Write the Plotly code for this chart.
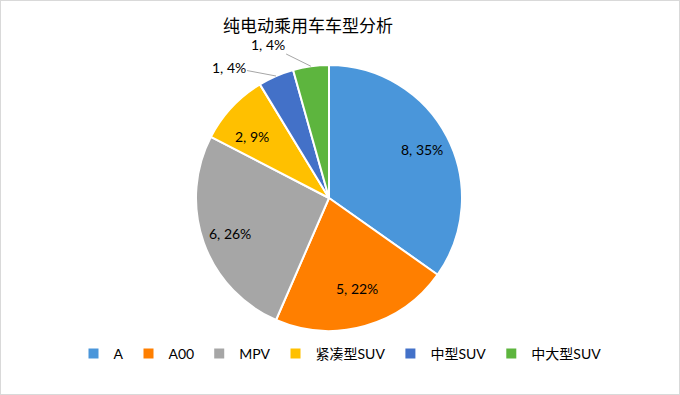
import math
import plotly.graph_objects as go

categories = ["A", "A00", "MPV", "紧凑型SUV", "中型SUV", "中大型SUV"]
values = [8, 5, 6, 2, 1, 1]
colors = ["#4A96DA", "#FF7F00", "#A6A6A6", "#FFC000", "#4371C8", "#5DB53E"]
outside = [False, False, False, False, True, True]

W, H = 680, 395
CX, CY, R = 329, 198, 133  # pie centre / radius in pixels
FONT = "Lato, 'Noto Sans CJK SC', sans-serif"

fig = go.Figure(go.Pie(
    labels=categories,
    values=values,
    sort=False,
    direction="clockwise",
    rotation=0,
    marker=dict(colors=colors, line=dict(color="white", width=2)),
    textinfo="none",
    hoverinfo="label+value+percent",
    domain=dict(x=[(CX - R) / W, (CX + R) / W], y=[1 - (CY + R) / H, 1 - (CY - R) / H]),
))

def px2paper(x, y):
    return x / W, 1 - y / H

total = sum(values)
cum = 0
annotations = []
for cat, v, out in zip(categories, values, outside):
    mid = (cum + v / 2) / total * 2 * math.pi
    cum += v
    pct = round(v / total * 100)
    text = f"{v}, {pct}%"
    if not out:
        r = 0.79 * R
        x, y = CX + r * math.sin(mid), CY - r * math.cos(mid)
        px, py = px2paper(x, y)
        annotations.append(dict(x=px, y=py, xref="paper", yref="paper", text=text,
                                showarrow=False, font=dict(family=FONT, size=14, color="black")))
    else:
        ex, ey = CX + R * math.sin(mid), CY - R * math.cos(mid)
        la = mid - math.radians(14)
        lx, ly = CX + 165 * math.sin(la), CY - 165 * math.cos(la)
        px, py = px2paper(ex, ey)
        annotations.append(dict(x=px, y=py, xref="paper", yref="paper", text=text,
                                showarrow=True, arrowhead=0, arrowwidth=1, arrowcolor="#A6A6A6",
                                ax=lx - ex, ay=ly - ey, standoff=0,
                                font=dict(family=FONT, size=14, color="black")))

fig.update_layout(
    width=W, height=H,
    paper_bgcolor="white",
    plot_bgcolor="white",
    margin=dict(l=0, r=0, t=0, b=0),
    title=dict(text="纯电动乘用车车型分析", x=308 / W, xanchor="center", y=1 - 26 / H, yanchor="middle",
               font=dict(family="'Noto Sans CJK SC', sans-serif", size=17, color="black")),
    legend=dict(orientation="h", x=340 / W, xanchor="center", y=1 - 354 / H, yanchor="middle",
                font=dict(family=FONT, size=14, color="black"), itemwidth=30, tracegroupgap=0),
    annotations=annotations,
    shapes=[dict(type="rect", xref="paper", yref="paper", x0=0, x1=1, y0=0, y1=1,
                 line=dict(color="#D9D9D9", width=2))],
)

fig.write_html("out.html", config={"displayModeBar": False},
               post_script="document.body.style.margin='0';document.body.style.overflow='hidden';")
